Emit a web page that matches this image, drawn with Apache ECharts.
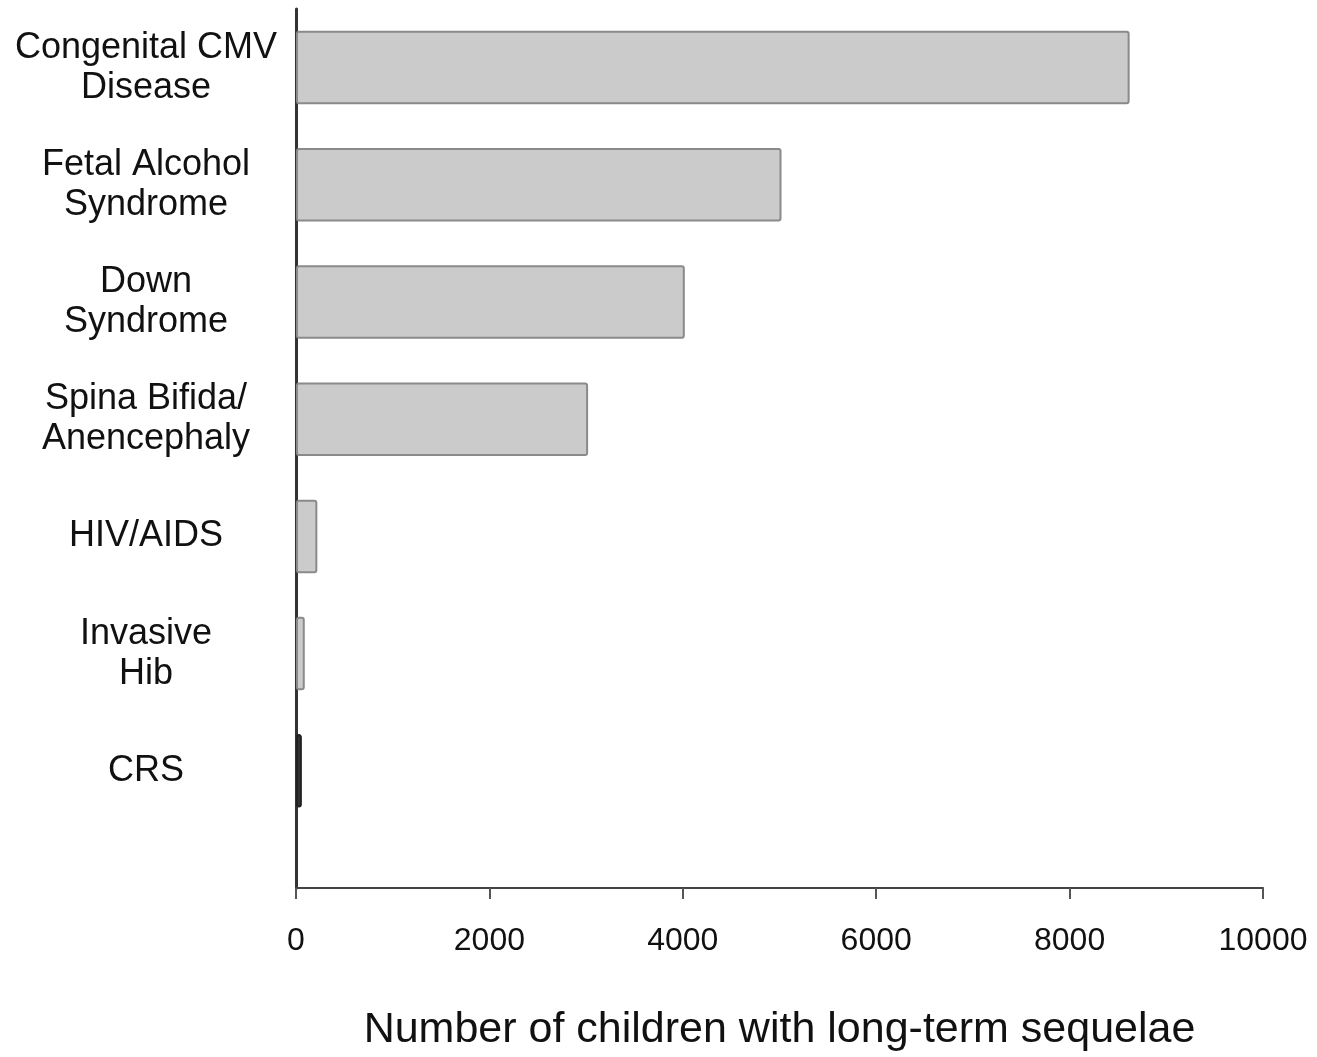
<!DOCTYPE html>
<html>
<head>
<meta charset="utf-8">
<script src="https://cdn.jsdelivr.net/npm/echarts@6/dist/echarts.min.js"></script>
<style>
html,body{margin:0;padding:0;background:#fff;}
#chart{width:1317px;height:1057px;}
</style>
</head>
<body>
<div id="chart"></div>
<script>
// Data
const categories = [
  'Congenital CMV\nDisease',
  'Fetal Alcohol\nSyndrome',
  'Down\nSyndrome',
  'Spina Bifida/\nAnencephaly',
  'HIV/AIDS',
  'Invasive\nHib',
  'CRS'
];
const values = [8600, 5000, 4000, 3000, 200, 70, 40];
const xTicks = [0, 2000, 4000, 6000, 8000, 10000];
const xAxisTitle = 'Number of children with long-term sequelae';

const FONT = '"Liberation Sans", Arial, Helvetica, sans-serif';
const darkIndex = categories.indexOf('CRS');

const seriesData = values.map((v, i) => ({
  value: [v, i],
  itemStyle: i === darkIndex ? { color: '#333333', borderColor: '#222222' } : undefined
}));

const chart = echarts.init(document.getElementById('chart'), null, { renderer: 'canvas' });
chart.setOption({
  backgroundColor: '#ffffff',
  animation: false,
  grid: { left: 296, right: 54, top: 9, bottom: 158, containLabel: false },
  xAxis: {
    type: 'value',
    min: xTicks[0],
    max: xTicks[xTicks.length - 1],
    interval: xTicks[1] - xTicks[0],
    name: xAxisTitle,
    nameLocation: 'middle',
    nameGap: 121,
    nameTextStyle: { fontFamily: FONT, fontSize: 43, color: '#111' },
    axisLine: { show: true, onZero: false, lineStyle: { color: '#444', width: 2 } },
    axisTick: { show: true, length: 11, lineStyle: { color: '#555', width: 2 } },
    axisLabel: {
      fontFamily: FONT, fontSize: 32, color: '#111', margin: 37,
      formatter: function (v) { return String(v); }
    },
    splitLine: { show: false }
  },
  yAxis: {
    type: 'value',
    inverse: true,
    min: -0.5,
    max: 7,
    interval: 0.5,
    axisLine: { show: true, onZero: false, lineStyle: { color: '#333', width: 3 } },
    axisTick: { show: false },
    splitLine: { show: false },
    axisLabel: {
      fontFamily: FONT,
      fontSize: 36,
      lineHeight: 40,
      color: '#111',
      align: 'center',
      margin: 150,
      formatter: function (v) {
        const r = Math.round(v);
        if (Math.abs(v - r) < 1e-6 && r >= 0 && r < categories.length) return categories[r];
        return '';
      }
    }
  },
  series: [{
    type: 'custom',
    data: seriesData,
    encode: { x: 0, y: 1 },
    itemStyle: { color: '#cbcbcb', borderColor: '#8a8a8a', borderWidth: 2 },
    renderItem: function (params, api) {
      const y = api.value(1);
      const start = api.coord([0, y]);
      const end = api.coord([api.value(0), y]);
      const h = api.size([0, 1])[1] * 0.61;
      const style = api.style();
      return {
        type: 'rect',
        shape: { x: start[0] + 1, y: start[1] - h / 2, width: end[0] - start[0], height: h, r: 2 },
        style: style
      };
    }
  }]
});
</script>
</body>
</html>
